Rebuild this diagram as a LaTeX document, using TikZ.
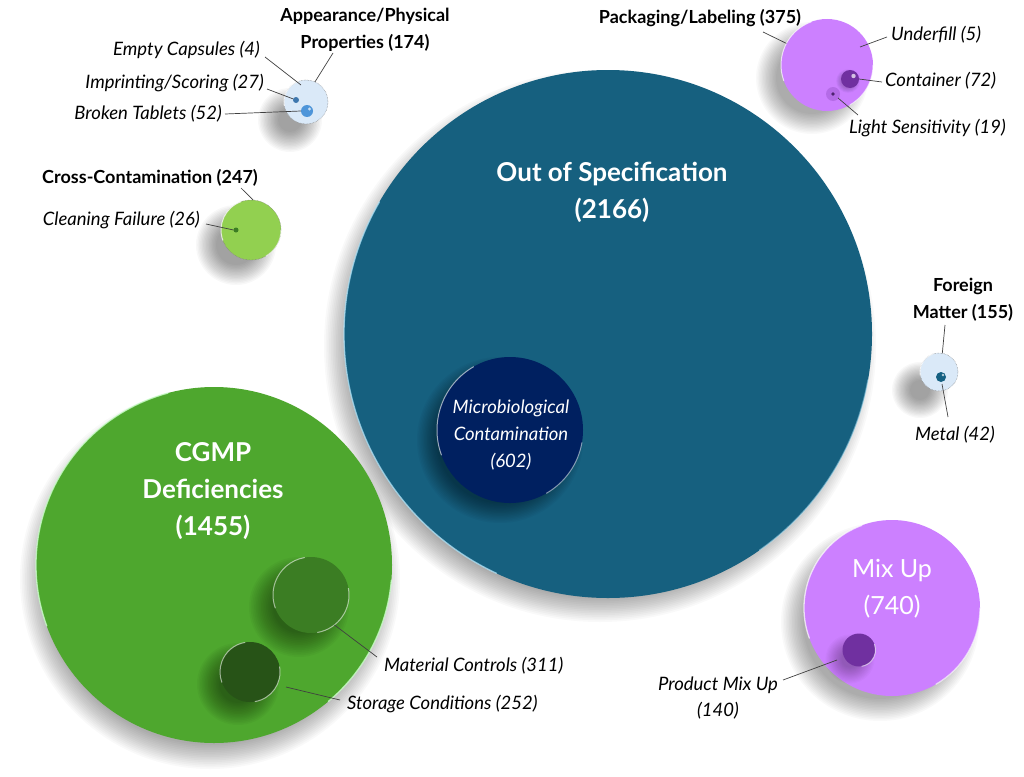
\documentclass[tikz,border=0pt]{standalone}
\usepackage{fontspec}
\setmainfont{Lato}
\definecolor{oosblue}{RGB}{22,96,127}
\definecolor{navy}{RGB}{0,32,96}
\definecolor{cgmpgreen}{RGB}{78,167,46}
\definecolor{midgreen}{RGB}{59,125,35}
\definecolor{darkgreen}{RGB}{39,83,23}
\definecolor{lightgreen}{RGB}{146,208,80}
\definecolor{lilac}{RGB}{204,128,255}
\definecolor{deeppurple}{RGB}{112,48,160}
\definecolor{paleblue}{RGB}{218,233,248}
\definecolor{ballblue}{RGB}{78,149,217}
\definecolor{tealblue}{RGB}{21,96,130}
\definecolor{linegray}{RGB}{64,64,64}
% soft shadow: x, y, radius, blur, opacity per layer
\newcommand\softshad[5]{%
  \foreach \k in {0,...,14}{\fill[black, fill opacity=#5] (#1,#2) circle[radius={#3+#4-2*#4*\k/14}];}}
\tikzset{
  bubble/.style={circle, inner sep=0pt, outer sep=0pt, minimum size=#1},
  conn/.style={draw=linegray, line width=0.7pt},
  rim/.style={draw=white, draw opacity=0.75, line width=1.3pt, line cap=round},
  dotrim/.style={draw=gray, densely dotted, line width=0.5pt},
  bigtxt/.style={text=white, font=\fontsize{26}{37}\selectfont\bfseries, align=center},
  mixtxt/.style={text=white, font=\fontsize{25}{37}\selectfont, align=center},
  microtxt/.style={text=white, font=\fontsize{18.5}{27}\selectfont\itshape, align=center},
  lbl/.style={text=black, font=\fontsize{18}{27}\selectfont\bfseries, align=center, inner sep=0pt},
  ital/.style={text=black, font=\fontsize{18.5}{26}\selectfont\itshape, align=center, inner sep=0pt},
}
\begin{document}
\begin{tikzpicture}[x=1pt,y=-1pt]
\useasboundingbox (0,0) rectangle (1024,776);
\fill[white] (0,0) rectangle (1024,776);

% ---------- Out of Specification ----------
\softshad{608-8}{334+12}{264}{12}{0.022}
\node[bubble=528pt, fill=oosblue] (oos) at (608,334) {};
\draw[rim, draw=cyan!30] (oos.150) arc[start angle=150, end angle=245, radius=264pt];
\draw[rim, draw=cyan!30, draw opacity=0.5] (oos.-10) arc[start angle=-10, end angle=-55, radius=264pt];
\node[bigtxt] (oost) at (612,192) {Out of Specification\\(2166)};

\softshad{510-10}{430+10}{73}{10}{0.03}
\node[bubble=146pt, fill=navy] (micro) at (510,430) {};
\draw[rim, draw opacity=0.6, line width=1pt] (micro.120) arc[start angle=120, end angle=200, radius=73pt];
\draw[rim, draw opacity=0.5, line width=1pt] (micro.-10) arc[start angle=-10, end angle=-60, radius=73pt];
\node[microtxt] (microt) at (511,435) {Microbiological\\Contamination\\(602)};

% ---------- CGMP ----------
\softshad{214-4}{565+14}{178}{12}{0.022}
\node[bubble=356pt, fill=cgmpgreen] (cgmp) at (214,565) {};
\draw[rim, draw=green!20, draw opacity=0.8] (cgmp.105) arc[start angle=105, end angle=200, radius=178pt];
\draw[rim, draw=green!20, draw opacity=0.8] (cgmp.-5) arc[start angle=-5, end angle=-50, radius=178pt];
\node[bigtxt] (cgmpt) at (213,491) {CGMP\\Deficiencies\\(1455)};

\softshad{311-12}{595+12}{38}{12}{0.03}
\node[bubble=76pt, fill=midgreen] (matc) at (311,595) {};
\draw[rim, draw opacity=0.55, line width=1pt] (matc.100) arc[start angle=100, end angle=200, radius=38pt];
\draw[rim, draw opacity=0.55, line width=1pt] (matc.10) arc[start angle=10, end angle=-80, radius=38pt];
\softshad{250-12}{672+12}{30}{11}{0.03}
\node[bubble=60pt, fill=darkgreen] (stor) at (250,672) {};
\draw[rim, draw opacity=0.55, line width=1pt] (stor.100) arc[start angle=100, end angle=200, radius=30pt];
\draw[rim, draw opacity=0.55, line width=1pt] (stor.10) arc[start angle=10, end angle=-80, radius=30pt];

\coordinate (matcA) at (377,657);
\coordinate (storA) at (340,700);
\coordinate (storB) at (286,687);
\draw[conn] (matcA) -- (matc.-52);
\draw[conn] (storA) -- (storB);
\node[ital, anchor=west] (matcl) at (384,666) {Material Controls (311)};
\node[ital, anchor=west] (storl) at (347,704) {Storage Conditions (252)};

% ---------- Mix Up ----------
\softshad{892-12}{608+14}{88}{11}{0.024}
\node[bubble=176pt, fill=lilac] (mix) at (892,608) {};
\draw[rim, draw opacity=0.7] (mix.110) arc[start angle=110, end angle=200, radius=88pt];
\draw[rim, draw opacity=0.6] (mix.0) arc[start angle=0, end angle=-60, radius=88pt];
\node[mixtxt] (mixt) at (892,589) {Mix Up\\(740)};
\softshad{859-9}{650+9}{16.5}{8}{0.02}
\node[bubble=33pt, fill=deeppurple] (pmix) at (859,650) {};
\draw[rim, draw opacity=0.6, line width=1pt] (pmix.20) arc[start angle=20, end angle=-80, radius=16.5pt];
\coordinate (pmixA) at (783,680);
\coordinate (pmixB) at (837,660);
\draw[conn] (pmixA) -- (pmixB);
\node[ital] (pmixl) at (718,698) {Product Mix Up\\(140)};

% ---------- Packaging ----------
\softshad{827-15}{65+13}{46}{10}{0.025}
\node[bubble=92pt, fill=lilac] (pack) at (827,65) {};
\draw[rim, draw opacity=0.7, line width=1pt] (pack.110) arc[start angle=110, end angle=200, radius=46pt];
\draw[rim, draw opacity=0.6, line width=1pt] (pack.0) arc[start angle=0, end angle=-60, radius=46pt];
\fill[deeppurple, opacity=0.25] (833,94) circle[radius=7pt];
\fill[deeppurple!70!black] (833,94) circle[radius=1.8pt] node[inner sep=0pt] (light) {};
\softshad{850-2}{79+2}{9}{3}{0.015}
\node[bubble=18pt, fill=deeppurple] (cont) at (850,79) {};
\fill[white, opacity=0.7] (853.5,76) circle[radius=2.2pt];
\node[lbl, anchor=center] (packl) at (700,18) {Packaging/Labeling (375)};
\coordinate (packA) at (763,32);
\draw[conn] (packA) -- (pack.152);
\coordinate (undA) at (887,37);
\coordinate (undB) at (860,47);
\draw[conn] (undA) -- (undB);
\node[ital, anchor=west] (undl) at (891,35) {Underfill (5)};
\coordinate (contA) at (882,82);
\draw[conn] (contA) -- (cont.east);
\node[ital, anchor=west] (contl) at (885,81) {Container (72)};
\coordinate (lightA) at (858,115);
\coordinate (lightB) at (838,98);
\draw[conn] (lightA) -- (lightB);
\node[ital, anchor=west] (lightl) at (849,128) {Light Sensitivity (19)};

% ---------- Appearance ----------
\softshad{306-16}{102+18}{22}{10}{0.027}
\node[bubble=44pt, fill=paleblue, dotrim] (app) at (306,102) {};
\draw[rim, line width=1pt] (app.110) arc[start angle=110, end angle=190, radius=22pt];
\node[bubble=12pt, fill=ballblue] (broken) at (307,111) {};
\fill[white, opacity=0.7] (309.5,109) circle[radius=1.6pt];
\node[bubble=6pt, fill=ballblue!80!black] (impr) at (296,100) {};
\node[lbl] (appl) at (365,29.5) {Appearance/Physical\\Properties (174)};
\coordinate (appA) at (333,53);
\draw[conn] (appA) -- (app.66);
\coordinate (empA) at (265,57);
\coordinate (empB) at (301,85);
\draw[conn] (empA) -- (empB);
\node[ital, anchor=east] (empl) at (260,50) {Empty Capsules (4)};
\coordinate (impA) at (267,89);
\draw[conn] (impA) -- (impr);
\node[ital, anchor=east] (impl) at (264,83) {Imprinting/Scoring (27)};
\coordinate (broA) at (225,114);
\draw[conn] (broA) -- (broken.west);
\node[ital, anchor=east] (brol) at (222,114) {Broken Tablets (52)};

% ---------- Cross-Contamination ----------
\softshad{251-15}{230+15}{30}{10}{0.027}
\node[bubble=60pt, fill=lightgreen, dotrim] (cross) at (251,230) {};
\draw[rim, line width=1pt] (cross.110) arc[start angle=110, end angle=200, radius=30pt];
\draw[rim, line width=1pt, draw opacity=0.6] (cross.0) arc[start angle=0, end angle=-60, radius=30pt];
\node[bubble=5pt, fill=midgreen] (clean) at (236,230) {};
\node[lbl] (crossl) at (150,178) {Cross-Contamination (247)};
\coordinate (crossA) at (241,188);
\draw[conn] (crossA) -- (cross.86);
\coordinate (cleanA) at (206,224);
\draw[conn] (cleanA) -- (clean.west);
\node[ital, anchor=east] (cleanl) at (200,220) {Cleaning Failure (26)};

% ---------- Foreign Matter ----------
\softshad{939-19}{372+18}{19}{9}{0.027}
\node[bubble=38pt, fill=paleblue, dotrim] (foreign) at (939,372) {};
\draw[rim, line width=1pt] (foreign.110) arc[start angle=110, end angle=190, radius=19pt];
\node[bubble=10pt, fill=tealblue] (metal) at (941,377) {};
\fill[white, opacity=0.7] (943,375) circle[radius=1.4pt];
\node[lbl] (foreignl) at (963,300) {Foreign\\Matter (155)};
\coordinate (forA) at (945,325);
\draw[conn] (forA) -- (foreign.80);
\coordinate (metA) at (948,417);
\coordinate (metB) at (942,384);
\draw[conn] (metA) -- (metB);
\node[ital] (metall) at (955,435) {Metal (42)};
\end{tikzpicture}
\end{document}
